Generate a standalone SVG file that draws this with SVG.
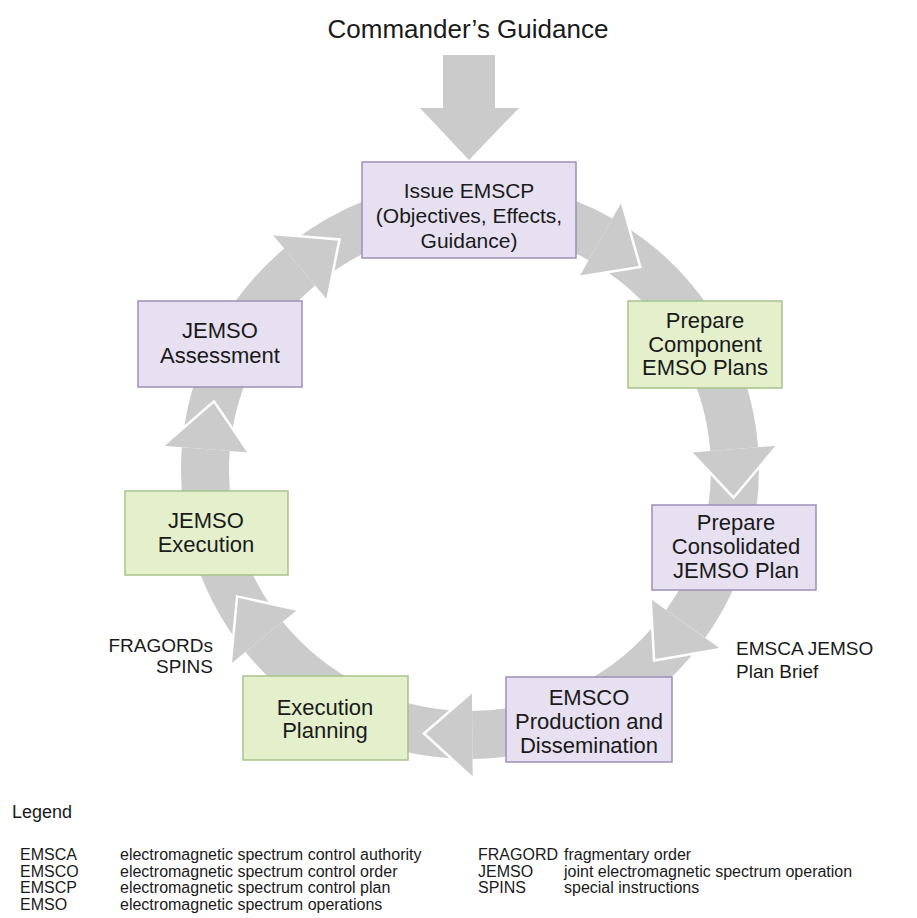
<svg xmlns="http://www.w3.org/2000/svg" width="917" height="918" viewBox="0 0 917 918">
  <style>
    .shaft { fill: none; stroke: #cbcbcb; stroke-width: 48; stroke-linecap: butt; }
    .head { fill: #cbcbcb; stroke: none; }
    .edge { fill: none; stroke: #ffffff; stroke-width: 2.5; stroke-linejoin: miter; }
    .purple { fill: #e6e0f0; stroke: #9d8fb8; stroke-width: 1.5; }
    .green { fill: #e4efcc; stroke: #a9c38c; stroke-width: 1.5; }
    text { font-family: "Liberation Sans", Arial, sans-serif; fill: #1a1a1a; }
    .box { font-size: 22px; text-anchor: middle; }
    .box21 { font-size: 21px; text-anchor: middle; }
    .title { font-size: 26px; text-anchor: middle; }
    .note { font-size: 19px; }
    .leg { font-size: 16px; }
    .leghead { font-size: 18px; }
  </style>

  <!-- Commander's guidance feed arrow -->
  <g id="guidance">
    <text class="title" x="468" y="38">Commander’s Guidance</text>
    <polygon class="head" points="443,55 495,55 495,108 519,108 469,160 420,108 443,108"/>
  </g>

  <!-- cycle arrows: arc shafts first, then heads on top with white edges -->
  <g id="connectors">
    <path class="shaft" d="M 306.8 261.2 A 265 265 0 0 1 600.5 239.3"/>
    <path class="shaft" d="M 608.5 244.1 A 265 265 0 0 1 734.2 449.2"/>
    <path class="shaft" d="M 734.7 458.4 A 265 265 0 0 1 685.7 623.9"/>
    <path class="shaft" d="M 680.2 631.3 A 265 265 0 0 1 472.3 735.0"/>
    <path class="shaft" d="M 463.1 734.9 A 265 265 0 0 1 264.1 636.8"/>
    <path class="shaft" d="M 258.4 629.5 A 265 265 0 0 1 205.8 449.2"/>
    <path class="shaft" d="M 206.7 440.0 A 265 265 0 0 1 299.7 267.0"/>

    <polygon class="head" points="621.7,201.9 640.3,267.0 579.3,276.7"/>
    <polyline class="edge" points="621.7,201.9 640.3,267.0 579.3,276.7"/>
    <polygon class="head" points="777.1,445.8 733.5,497.7 691.3,452.6"/>
    <polyline class="edge" points="777.1,445.8 733.5,497.7 691.3,452.6"/>
    <polygon class="head" points="720.7,648.9 654.1,660.6 650.7,598.9"/>
    <polyline class="edge" points="720.7,648.9 654.1,660.6 650.7,598.9"/>
    <polygon class="head" points="472.7,778 424.0,733.5 471.9,692"/>
    <polyline class="edge" points="472.7,778 424.0,733.5 471.9,692"/>
    <polygon class="head" points="230.7,663.9 237.1,596.4 297.5,609.7"/>
    <polyline class="edge" points="230.7,663.9 237.1,596.4 297.5,609.7"/>
    <polygon class="head" points="162.9,445.8 214.0,401.4 248.7,452.6"/>
    <polyline class="edge" points="162.9,445.8 214.0,401.4 248.7,452.6"/>
    <polygon class="head" points="272.1,234.1 339.5,239.4 327.3,299.9"/>
    <polyline class="edge" points="272.1,234.1 339.5,239.4 327.3,299.9"/>
  </g>

  <g id="issue-emscp">
    <rect class="purple" x="362" y="162" width="214" height="96"/>
    <text class="box21" x="469" y="198">Issue EMSCP</text>
    <text class="box21" x="469" y="223">(Objectives, Effects,</text>
    <text class="box21" x="469" y="248">Guidance)</text>
  </g>

  <g id="component-plans">
    <rect class="green" x="628" y="301" width="154" height="87"/>
    <text class="box" x="705" y="328">Prepare</text>
    <text class="box" x="705" y="352">Component</text>
    <text class="box" x="705" y="375">EMSO Plans</text>
  </g>

  <g id="consolidated-plan">
    <rect class="purple" x="652" y="505" width="164" height="85"/>
    <text class="box" x="736" y="530">Prepare</text>
    <text class="box" x="736" y="554">Consolidated</text>
    <text class="box" x="736" y="578">JEMSO Plan</text>
  </g>

  <g id="emsco-production">
    <rect class="purple" x="506" y="677" width="166" height="85"/>
    <text class="box" x="589" y="705">EMSCO</text>
    <text class="box" x="589" y="729">Production and</text>
    <text class="box" x="589" y="753">Dissemination</text>
  </g>

  <g id="execution-planning">
    <rect class="green" x="243" y="676" width="165" height="84"/>
    <text class="box" x="325" y="715">Execution</text>
    <text class="box" x="325" y="738">Planning</text>
  </g>

  <g id="jemso-execution">
    <rect class="green" x="125" y="491" width="163" height="84"/>
    <text class="box" x="206" y="528">JEMSO</text>
    <text class="box" x="206" y="552">Execution</text>
  </g>

  <g id="jemso-assessment">
    <rect class="purple" x="138" y="301" width="164" height="86"/>
    <text class="box" x="220" y="338">JEMSO</text>
    <text class="box" x="220" y="363">Assessment</text>
  </g>

  <!-- products passed along the cycle -->
  <g id="labels">
    <text class="note" x="736" y="655">EMSCA JEMSO</text>
    <text class="note" x="736" y="678">Plan Brief</text>
    <text class="note" x="213" y="652" text-anchor="end">FRAGORDs</text>
    <text class="note" x="213" y="673" text-anchor="end">SPINS</text>
  </g>

  <g id="legend">
    <text class="leghead" x="12" y="818">Legend</text>
    <text class="leg" x="20" y="860">EMSCA</text>
    <text class="leg" x="120" y="860">electromagnetic spectrum control authority</text>
    <text class="leg" x="20" y="876.5">EMSCO</text>
    <text class="leg" x="120" y="876.5">electromagnetic spectrum control order</text>
    <text class="leg" x="20" y="893">EMSCP</text>
    <text class="leg" x="120" y="893">electromagnetic spectrum control plan</text>
    <text class="leg" x="20" y="909.5">EMSO</text>
    <text class="leg" x="120" y="909.5">electromagnetic spectrum operations</text>
    <text class="leg" x="478" y="860">FRAGORD</text>
    <text class="leg" x="564" y="860">fragmentary order</text>
    <text class="leg" x="478" y="876.5">JEMSO</text>
    <text class="leg" x="564" y="876.5">joint electromagnetic spectrum operation</text>
    <text class="leg" x="478" y="893">SPINS</text>
    <text class="leg" x="564" y="893">special instructions</text>
  </g>
</svg>
